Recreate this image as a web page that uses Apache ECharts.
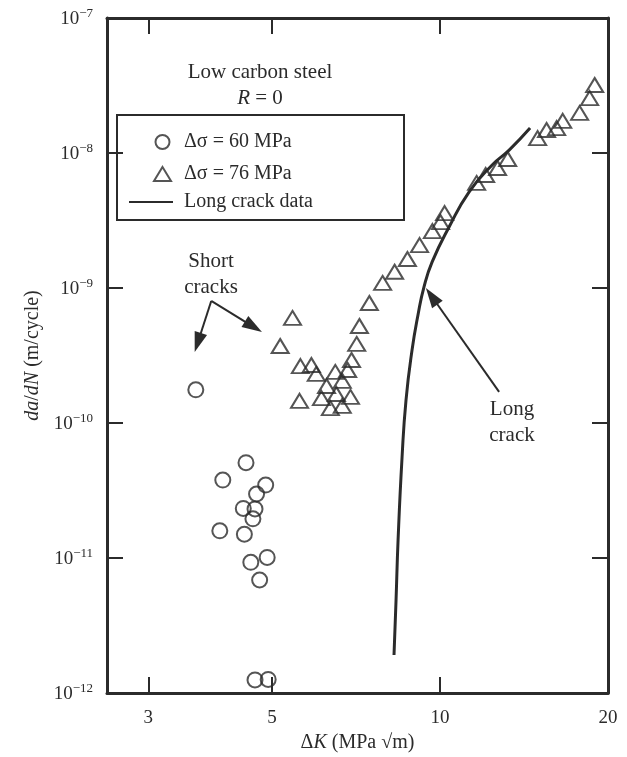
<!DOCTYPE html>
<html>
<head>
<meta charset="utf-8">
<script src="https://cdn.jsdelivr.net/npm/echarts@6/dist/echarts.min.js"></script>
<style>
  html, body { margin: 0; padding: 0; background: #fff; }
  #chart { width: 627px; height: 757px; }
</style>
</head>
<body>
<div id="chart"></div>
<script>
// short cracks, stress range 60 MPa (circles)
var k60 = [3.65, 4.49, 4.08, 4.87, 4.69, 4.44, 4.66, 4.62, 4.03, 4.46, 4.90, 4.58, 4.75, 4.66, 4.92];
var rate60 = [1.76e-10, 5.08e-11, 3.78e-11, 3.47e-11, 2.98e-11, 2.33e-11, 2.31e-11, 1.95e-11,
  1.59e-11, 1.50e-11, 1.01e-11, 9.29e-12, 6.87e-12, 1.25e-12, 1.26e-12];

// stress range 76 MPa (triangles)
var k76 = [5.17, 5.44, 5.60, 5.62, 5.88, 6.00, 6.13, 6.26, 6.36, 6.49, 6.52, 6.68, 6.68, 6.83,
  6.91, 6.94, 7.09, 7.17, 7.47, 7.89, 8.29, 8.74, 9.19, 9.69, 10.02, 10.19, 11.63, 12.07,
  12.68, 13.22, 14.96, 15.52, 16.18, 16.59, 17.79, 18.54, 18.93];
var rate76 = [3.72e-10, 6.0e-10, 1.46e-10, 2.64e-10, 2.69e-10, 2.31e-10, 1.53e-10, 1.88e-10,
  1.29e-10, 2.39e-10, 1.64e-10, 2.05e-10, 1.34e-10, 2.47e-10, 1.56e-10, 2.93e-10, 3.85e-10,
  5.23e-10, 7.74e-10, 1.09e-9, 1.32e-9, 1.64e-9, 2.08e-9, 2.64e-9, 3.08e-9, 3.59e-9, 6.0e-9,
  6.87e-9, 7.74e-9, 9.03e-9, 1.29e-8, 1.48e-8, 1.53e-8, 1.73e-8, 1.98e-8, 2.55e-8, 3.19e-8];

// long crack curve
var kLong = [8.27, 8.34, 8.41, 8.55, 8.69, 8.91, 9.13, 9.36, 9.68, 10.38, 11.27, 12.40, 13.30, 14.50];
var rateLong = [1.91e-12, 4.89e-12, 1.36e-11, 5.6e-11, 1.48e-10, 3.48e-10, 6.31e-10, 1.02e-9,
  1.56e-9, 2.83e-9, 5.14e-9, 8.15e-9, 1.05e-8, 1.53e-8];

var xTicks = [3, 5, 10, 20];

// annotation arrows [from, to] in data coords
var shortArrows = [
  [[3.89, 8.02e-10], [3.68, 3.95e-10]],
  [[3.89, 8.02e-10], [4.63, 5.16e-10]]
];
var longArrow = [[12.76, 1.70e-10], [9.66, 8.69e-10]];

var INK = '#2b2b2b';
var SERIF = '"Liberation Serif", "DejaVu Serif", serif';

function zip(a, b) {
  return a.map(function (v, i) { return [v, b[i]]; });
}

var chart = echarts.init(document.getElementById('chart'));

var arrowData = shortArrows.concat([longArrow]).map(function (p) {
  return [{ coord: p[0] }, { coord: p[1] }];
});

var xBase = {
  type: 'log',
  min: 2.53,
  max: 20,
  axisLine: { show: true, lineStyle: { color: INK, width: 3 } },
  axisTick: { show: true, inside: true, length: 16, customValues: xTicks, lineStyle: { color: INK, width: 2 } },
  minorTick: { show: false },
  splitLine: { show: false }
};
var yBase = {
  type: 'log',
  min: 1e-12,
  max: 1e-7,
  axisLine: { show: true, lineStyle: { color: INK, width: 3 } },
  axisTick: { show: true, inside: true, length: 16, lineStyle: { color: INK, width: 2 } },
  minorTick: { show: false },
  splitLine: { show: false }
};

var nameRich = {
  n: { fontFamily: SERIF, fontSize: 20, color: INK },
  i: { fontFamily: SERIF, fontSize: 20, fontStyle: 'italic', color: INK }
};

var option = {
  animation: false,
  backgroundColor: '#fff',
  grid: { left: 107, right: 19, top: 18, bottom: 64, outerBoundsMode: 'none' },
  xAxis: [
    Object.assign({}, xBase, {
      position: 'bottom',
      name: '{n|Δ}{i|K}{n| (MPa √m)}',
      nameLocation: 'middle',
      nameGap: 40,
      nameTextStyle: { rich: nameRich },
      axisLabel: {
        show: true, customValues: xTicks, margin: 16,
        fontFamily: SERIF, fontSize: 19, color: INK,
        formatter: function (v) { return String(Math.round(v)); }
      }
    }),
    Object.assign({}, xBase, { position: 'top', axisLabel: { show: false } })
  ],
  yAxis: [
    Object.assign({}, yBase, {
      position: 'left',
      name: '{i|da}{n|/}{i|dN}{n| (m/cycle)}',
      nameLocation: 'middle',
      nameGap: 64,
      nameTextStyle: { rich: nameRich },
      axisLabel: {
        show: true, margin: 14,
        formatter: function (v) {
          return '{b|10}{s|−' + Math.round(-Math.log10(v)) + '}';
        },
        rich: {
          b: { fontFamily: SERIF, fontSize: 19, color: INK, lineHeight: 22, verticalAlign: 'bottom' },
          s: { fontFamily: SERIF, fontSize: 13, color: INK, lineHeight: 22, verticalAlign: 'top' }
        }
      }
    }),
    Object.assign({}, yBase, { position: 'right', axisLabel: { show: false } })
  ],
  legend: [
    {
      orient: 'vertical',
      left: 153,
      top: 132,
      padding: 0,
      itemWidth: 17,
      itemHeight: 14,
      itemGap: 12,
      textStyle: { fontFamily: SERIF, fontSize: 20, color: INK, lineHeight: 20, padding: [0, 0, 0, 8] },
      data: ['Δσ = 60 MPa', 'Δσ = 76 MPa']
    },
    {
      orient: 'vertical',
      left: 128,
      top: 192,
      padding: 0,
      itemWidth: 44,
      itemHeight: 14,
      textStyle: { fontFamily: SERIF, fontSize: 20, color: INK, lineHeight: 20, padding: [0, 0, 0, 6] },
      data: ['Long crack data']
    }
  ],
  graphic: [
    {
      type: 'rect',
      shape: { x: 117, y: 115, width: 287, height: 105 },
      style: { fill: 'none', stroke: INK, lineWidth: 2 },
      z: 1
    },
    {
      type: 'text', x: 260, y: 72,
      style: { text: 'Low carbon steel', font: '21px ' + SERIF, fill: INK, align: 'center', verticalAlign: 'middle' }
    },
    {
      type: 'text', x: 260, y: 98,
      style: {
        text: '{i|R}{n| = 0}', align: 'center', verticalAlign: 'middle',
        rich: {
          n: { fontFamily: SERIF, fontSize: 21, fill: INK },
          i: { fontFamily: SERIF, fontSize: 21, fontStyle: 'italic', fill: INK }
        }
      }
    },
    {
      type: 'text', x: 211, y: 274,
      style: { text: 'Short\ncracks', font: '21px ' + SERIF, lineHeight: 26, fill: INK, align: 'center', verticalAlign: 'middle' }
    },
    {
      type: 'text', x: 512, y: 422,
      style: { text: 'Long\ncrack', font: '21px ' + SERIF, lineHeight: 26, fill: INK, align: 'center', verticalAlign: 'middle' }
    }
  ],
  series: [
    {
      name: 'Δσ = 60 MPa',
      type: 'scatter',
      symbol: 'circle',
      symbolSize: 15,
      symbolKeepAspect: true,
      itemStyle: { color: 'rgba(255,255,255,0)', borderColor: INK, borderWidth: 2 },
      data: zip(k60, rate60)
    },
    {
      name: 'Δσ = 76 MPa',
      type: 'scatter',
      symbol: 'triangle',
      symbolSize: [17, 14],
      symbolKeepAspect: true,
      itemStyle: { color: 'rgba(255,255,255,0)', borderColor: INK, borderWidth: 2 },
      data: zip(k76, rate76)
    },
    {
      name: 'Long crack data',
      type: 'line',
      symbol: 'none',
      smooth: true,
      lineStyle: { color: INK, width: 3 },
      itemStyle: { color: 'rgba(0,0,0,0)', borderColor: 'rgba(0,0,0,0)' },
      data: zip(kLong, rateLong),
      markLine: {
        silent: true,
        symbol: ['none', 'triangle'],
        symbolSize: [13, 20],
        label: { show: false },
        lineStyle: { color: INK, width: 2, type: 'solid' },
        itemStyle: { color: INK },
        data: arrowData
      }
    }
  ]
};

chart.setOption(option);
</script>
</body>
</html>
